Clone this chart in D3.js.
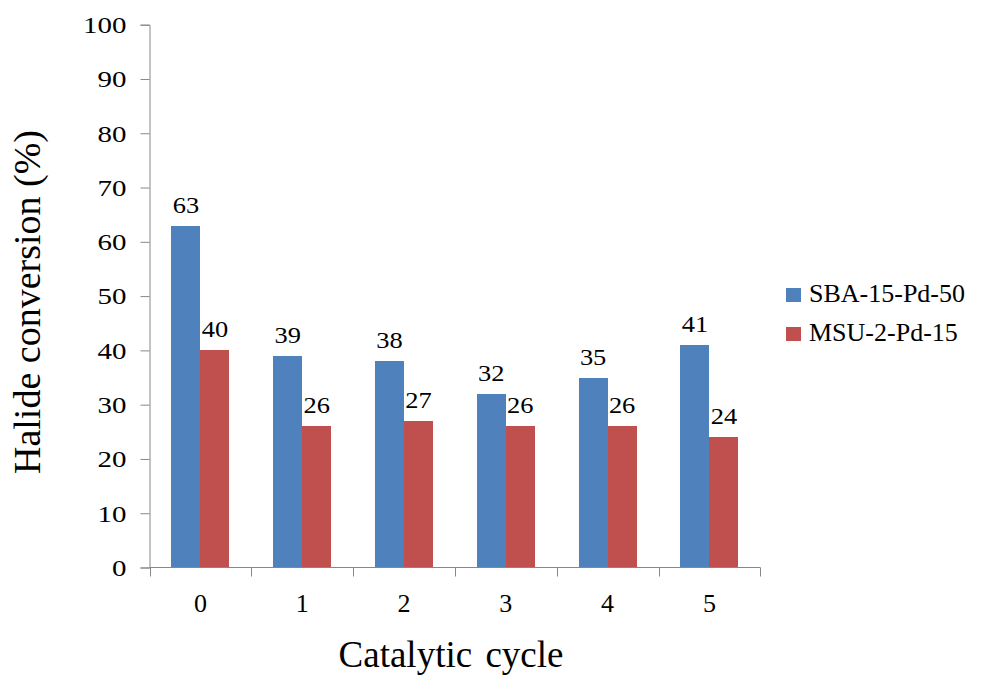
<!DOCTYPE html>
<html>
<head>
<meta charset="utf-8">
<script src="https://cdn.jsdelivr.net/npm/d3@7"></script>
<style>
  html, body { margin: 0; padding: 0; background: #fff; }
  svg { display: block; }
</style>
</head>
<body>
<svg id="chart" width="985" height="679" font-family="Liberation Serif"></svg>
<script>
// Catalytic recycling data: halide conversion per cycle
const cycles = ["0", "1", "2", "3", "4", "5"];
const seriesNames = ["SBA-15-Pd-50", "MSU-2-Pd-15"];
const sbaValues = [63, 39, 38, 32, 35, 41];
const msuValues = [40, 26, 27, 26, 26, 24];
const seriesColors = ["#4F81BD", "#C0504D"];
const yTicks = [0, 10, 20, 30, 40, 50, 60, 70, 80, 90, 100];

const serif = "Liberation Serif";
const rows = cycles.map((c, i) => ({ cycle: c, values: [sbaValues[i], msuValues[i]] }));

const svg = d3.select("#chart");
const axisColor = "#878787";

const x0 = d3.scaleBand().domain(cycles).range([149.5, 760.3]).padding(0);
const x1 = d3.scaleBand().domain(d3.range(seriesNames.length))
  .range([0, x0.bandwidth()]).paddingInner(0).paddingOuter(0.755);
const y = d3.scaleLinear().domain([0, 100]).range([567.5, 24.7]);

// Bars
const groups = svg.append("g").selectAll("g")
  .data(rows).join("g")
  .attr("transform", d => `translate(${x0(d.cycle)},0)`);

groups.selectAll("rect")
  .data(d => d.values.map((v, k) => ({ k, v })))
  .join("rect")
  .attr("x", d => x1(d.k))
  .attr("y", d => y(d.v))
  .attr("width", x1.bandwidth())
  .attr("height", d => y(0) - y(d.v))
  .attr("fill", d => seriesColors[d.k])
  .attr("shape-rendering", "crispEdges");

// Value labels above bars
groups.selectAll("text.val")
  .data(d => d.values.map((v, k) => ({ k, v })))
  .join("text")
  .attr("class", "val")
  .attr("transform", d => `translate(${x1(d.k) + x1.bandwidth() / 2},${y(d.v) - 13}) scale(1.15,1)`)
  .attr("text-anchor", "middle")
  .attr("font-family", serif)
  .attr("font-size", 23)
  .attr("fill", "#000")
  .text(d => d.v);

// Y axis
const yAxis = svg.append("g")
  .attr("transform", "translate(149.5,0)")
  .call(d3.axisLeft(y).tickValues(yTicks).tickSize(9).tickFormat(d3.format("d")));
yAxis.select(".domain").attr("stroke", axisColor);
yAxis.selectAll(".tick line").attr("stroke", axisColor);
yAxis.selectAll(".tick text")
  .attr("font-family", serif)
  .attr("font-size", 23)
  .attr("fill", "#000")
  .attr("x", 0)
  .attr("dy", "0.34em")
  .attr("text-anchor", "end")
  .attr("transform", "translate(-23,0) scale(1.26,1)");

// X axis (ticks at category boundaries)
const xAxisG = svg.append("g").attr("transform", `translate(0,${y(0)})`);
xAxisG.append("line")
  .attr("x1", x0.range()[0]).attr("x2", x0.range()[1])
  .attr("y1", 0).attr("y2", 0)
  .attr("stroke", axisColor);
const boundaries = cycles.map(c => x0(c)).concat([x0.range()[1]]);
xAxisG.selectAll("line.tick")
  .data(boundaries).join("line")
  .attr("class", "tick")
  .attr("x1", d => Math.round(d) + 0.5).attr("x2", d => Math.round(d) + 0.5)
  .attr("y1", 0).attr("y2", 9)
  .attr("stroke", axisColor);
xAxisG.selectAll("text")
  .data(cycles).join("text")
  .attr("x", d => x0(d) + x0.bandwidth() / 2)
  .attr("y", 44)
  .attr("text-anchor", "middle")
  .attr("font-family", serif)
  .attr("font-size", 26)
  .attr("fill", "#000")
  .text(d => d);

// Axis titles
svg.append("text")
  .attr("x", 451).attr("y", 667)
  .attr("text-anchor", "middle")
  .attr("font-family", serif)
  .attr("font-size", 37)
  .attr("word-spacing", 4)
  .attr("fill", "#000")
  .text("Catalytic cycle");

svg.append("text")
  .attr("transform", "translate(40,302) rotate(-90)")
  .attr("text-anchor", "middle")
  .attr("font-family", serif)
  .attr("font-size", 38)
  .attr("fill", "#000")
  .text("Halide conversion (%)");

// Legend
const legend = svg.append("g").attr("transform", "translate(786,288)");
const items = legend.selectAll("g").data(seriesNames).join("g")
  .attr("transform", (d, i) => `translate(0,${i * 39})`);
items.append("rect")
  .attr("width", 15).attr("height", 14)
  .attr("fill", (d, i) => seriesColors[i])
  .attr("shape-rendering", "crispEdges");
items.append("text")
  .attr("x", 23).attr("y", 14)
  .attr("font-family", serif)
  .attr("font-size", 26)
  .attr("fill", "#000")
  .text(d => d);
</script>
</body>
</html>
